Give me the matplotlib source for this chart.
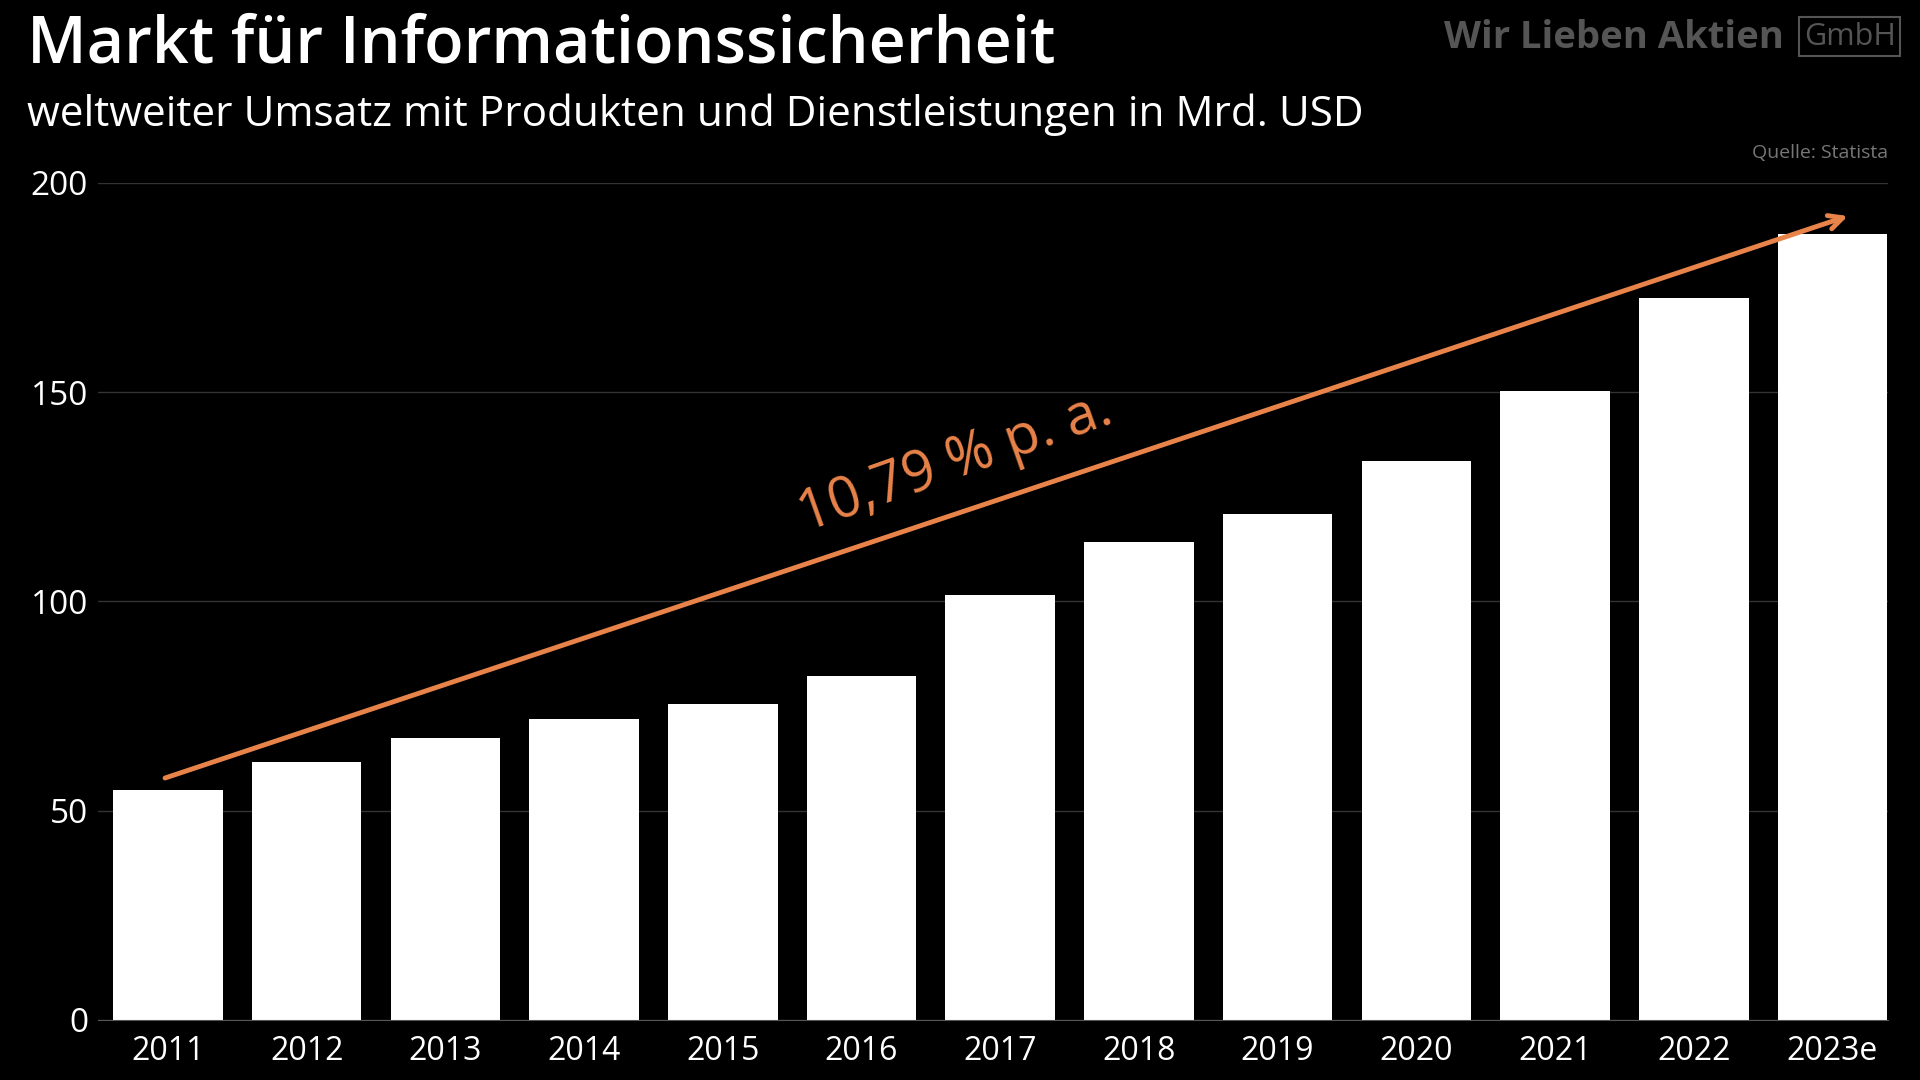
import matplotlib.pyplot as plt

# daten (Mrd. USD)
jahre = ["2011", "2012", "2013", "2014", "2015", "2016", "2017",
         "2018", "2019", "2020", "2021", "2022", "2023e"]
umsatz = [54.9, 61.7, 67.3, 71.9, 75.4, 82.2, 101.5,
          114.1, 120.8, 133.6, 150.3, 172.4, 187.9]
y_ticks = [0, 50, 100, 150, 200]
wachstum = "10,79 % p. a."

font = ["Open Sans", "DejaVu Sans"]
plt.rcParams['font.family'] = font

fig = plt.figure(figsize=(19.2, 10.8), dpi=100, facecolor="black")
ax = fig.add_axes([0.051, 0.0556, 0.9323, 0.775])
ax.set_facecolor("black")

x = range(len(jahre))
ax.bar(x, umsatz, width=0.79, color="white", zorder=3)

ax.set_ylim(0, 200)
ax.set_xlim(-0.505, 12.4)
ax.set_yticks(y_ticks)
ax.set_xticks(list(x))
ax.set_xticklabels(jahre)
ax.tick_params(axis="y", length=0, pad=7, labelsize=24, labelcolor="white")
ax.tick_params(axis="x", length=0, pad=11, labelsize=23, labelcolor="white")
ax.grid(axis="y", color="#333333", linewidth=1, zorder=0)
for s in ["top", "right", "left"]:
    ax.spines[s].set_visible(False)
ax.spines["bottom"].set_color("#555555")
ax.spines["bottom"].set_zorder(4)

# Trendpfeil
ax.annotate("", xy=(12.13, 192.3), xytext=(-0.04, 57.6),
            arrowprops=dict(arrowstyle="->,head_length=1.0,head_width=0.5",
                            color="#e8834a", lw=3.5),
            annotation_clip=False, zorder=5)
ax.text(5.68, 133, wachstum, color="#e8834a", fontsize=40.5, rotation=19.5,
        ha="center", va="center", zorder=5)

# Titel
fig.text(0.014, 0.957, "Markt für Informationssicherheit", color="white",
         fontsize=46.5, fontweight="semibold", va="center", ha="left")
fig.text(0.014, 0.894, "weltweiter Umsatz mit Produkten und Dienstleistungen in Mrd. USD",
         color="white", fontsize=30.4, va="center", ha="left")
fig.text(0.9833, 0.858, "Quelle: Statista", color="#777777", fontsize=14,
         ha="right", va="center")

# Logo
fig.text(0.929, 0.965, "Wir Lieben Aktien", color="#555555", fontsize=27.5,
         fontweight="bold", ha="right", va="center")
fig.text(0.9635, 0.966, "GmbH", color="#555555", fontsize=22,
         fontweight="medium", ha="center", va="center",
         bbox=dict(boxstyle="square,pad=0.15", fc="none", ec="#555555", lw=1.5))

fig.savefig("out.png", dpi=100, facecolor="black")
